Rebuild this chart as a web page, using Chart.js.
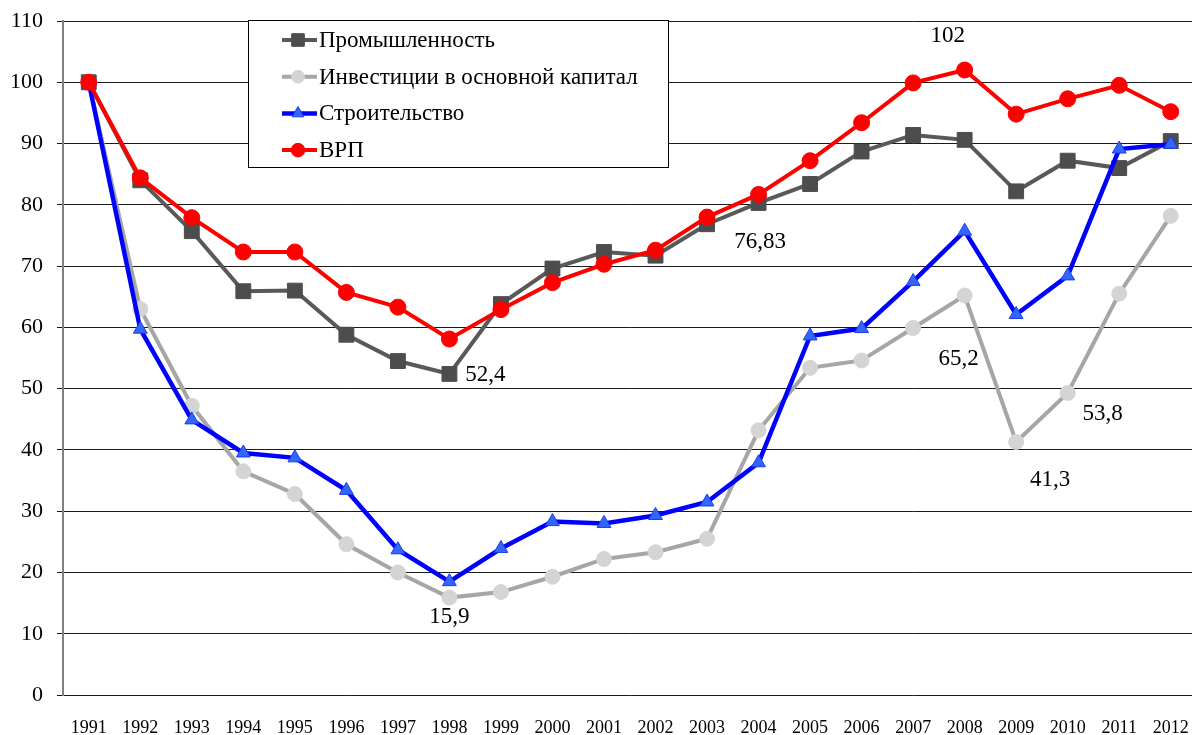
<!DOCTYPE html>
<html lang="ru">
<head>
<meta charset="utf-8">
<title>Индексы 1991–2012</title>
<script src="https://cdn.jsdelivr.net/npm/chart.js@4/dist/chart.umd.min.js"></script>
<style>
  html, body { margin: 0; padding: 0; background: #fff; overflow: hidden; width: 1192px; height: 735px; }
  #wrap { width: 1192px; height: 735px; overflow: hidden; position: relative; }
  #chart { position: absolute; left: 0; top: 0; display: block; }
</style>
</head>
<body>
<div id="wrap"><canvas id="chart" width="1208" height="735"></canvas></div>
<script>
var years = ["1991", "1992", "1993", "1994", "1995", "1996", "1997", "1998", "1999", "2000", "2001",
  "2002", "2003", "2004", "2005", "2006", "2007", "2008", "2009", "2010", "2011", "2012"];

var industry = [100, 84.0, 75.7, 65.9, 66.0, 58.8, 54.5, 52.4, 63.8, 69.6, 72.3,
  71.7, 76.83, 80.3, 83.4, 88.7, 91.4, 90.6, 82.2, 87.2, 86.0, 90.4];
var investment = [100, 63.0, 47.2, 36.5, 32.8, 24.6, 20.0, 15.9, 16.8, 19.3, 22.2,
  23.3, 25.5, 43.2, 53.4, 54.6, 59.9, 65.2, 41.3, 49.3, 65.5, 78.2];
var construction = [100, 59.7, 44.9, 39.5, 38.7, 33.4, 23.7, 18.5, 23.9, 28.3, 28.0,
  29.3, 31.5, 37.9, 58.6, 59.8, 67.5, 75.7, 62.1, 68.4, 89.1, 89.9];
var grp = [100, 84.4, 77.9, 72.3, 72.3, 65.7, 63.3, 58.1, 62.9, 67.3, 70.3,
  72.6, 78.0, 81.7, 87.2, 93.4, 99.9, 102.0, 94.8, 97.3, 99.5, 95.2];

var seriesNames = ["Промышленность", "Инвестиции в основной капитал", "Строительство", "ВРП"];

// value labels written on the chart: series index, year, text
var noteSeries = [0, 0, 3, 1, 1, 1, 1];
var noteYears = ["1998", "2003", "2008", "2008", "2009", "2010", "1998"];
var noteTexts = ["52,4", "76,83", "102", "65,2", "41,3", "53,8", "15,9"];
// where each label sits relative to its point (px)
var noteShift = [[36, 1], [53, 18], [-17, -34], [-6, 63], [34, 38], [35, 21], [0, 19]];

var serif = '"Liberation Serif", "Times New Roman", serif';

var boxLegend = {
  id: "boxLegend",
  afterDraw: function (chart) {
    var ctx = chart.ctx;
    var area = chart.chartArea;
    var left = area.left + 185;
    var top = area.top - 1;
    ctx.save();
    ctx.fillStyle = "#ffffff";
    ctx.fillRect(left, top, 420, 147);
    ctx.strokeStyle = "#000000";
    ctx.lineWidth = 1;
    ctx.strokeRect(left + 0.5, top + 0.5, 420, 147);

    chart.data.datasets.forEach(function (ds, i) {
      var y = top + 20 + i * 36.7;
      ctx.strokeStyle = ds.borderColor;
      ctx.lineWidth = ds.borderWidth;
      ctx.beginPath();
      ctx.moveTo(left + 34, y);
      ctx.lineTo(left + 69, y);
      ctx.stroke();

      ctx.fillStyle = ds.pointBackgroundColor;
      ctx.strokeStyle = ds.pointBorderColor;
      ctx.lineWidth = ds.pointBorderWidth;
      Chart.helpers.drawPoint(ctx, {
        pointStyle: ds.pointStyle,
        radius: ds.pointRadius * 0.85,
        rotation: 0,
        borderWidth: ds.pointBorderWidth,
      }, left + 50, y);

      ctx.fillStyle = "#000000";
      ctx.font = "23px " + serif;
      ctx.textAlign = "left";
      ctx.textBaseline = "middle";
      ctx.fillText(ds.label, left + 71, y + 1);
    });
    ctx.restore();
  },
};

var valueNotes = {
  id: "valueNotes",
  afterDatasetsDraw: function (chart) {
    var ctx = chart.ctx;
    ctx.save();
    ctx.fillStyle = "#000000";
    ctx.font = "23px " + serif;
    ctx.textAlign = "center";
    ctx.textBaseline = "middle";
    noteTexts.forEach(function (text, i) {
      var meta = chart.getDatasetMeta(noteSeries[i]);
      var point = meta.data[years.indexOf(noteYears[i])];
      ctx.fillText(text, point.x + noteShift[i][0], point.y + noteShift[i][1]);
    });
    ctx.restore();
  },
};

new Chart(document.getElementById("chart"), {
  type: "line",
  data: {
    labels: years,
    datasets: [
      {
        label: seriesNames[0],
        data: industry,
        order: 4,
        borderColor: "#595959",
        borderWidth: 4,
        pointStyle: "rect",
        pointRadius: 10.5,
        pointBackgroundColor: "#4d4d4d",
        pointBorderColor: "#4d4d4d",
        pointBorderWidth: 1,
      },
      {
        label: seriesNames[1],
        data: investment,
        order: 3,
        borderColor: "#a6a6a6",
        borderWidth: 4,
        pointStyle: "circle",
        pointRadius: 7.5,
        pointBackgroundColor: "#d4d4d4",
        pointBorderColor: "#d4d4d4",
        pointBorderWidth: 1,
      },
      {
        label: seriesNames[2],
        data: construction,
        order: 2,
        borderColor: "#0000ff",
        borderWidth: 4.5,
        pointStyle: "triangle",
        pointRadius: 8,
        pointBackgroundColor: "#3366ff",
        pointBorderColor: "#1a3ee6",
        pointBorderWidth: 1,
      },
      {
        label: seriesNames[3],
        data: grp,
        order: 1,
        borderColor: "#ff0000",
        borderWidth: 4,
        pointStyle: "circle",
        pointRadius: 8,
        pointBackgroundColor: "#ff0000",
        pointBorderColor: "#ff0000",
        pointBorderWidth: 1,
      },
    ],
  },
  options: {
    responsive: false,
    animation: false,
    layout: { padding: { top: 21, right: 3, left: 0, bottom: 0 } },
    plugins: {
      legend: { display: false },
      tooltip: { enabled: false },
    },
    elements: { line: { tension: 0 } },
    scales: {
      x: {
        offset: true,
        grid: { display: false, drawTicks: false },
        border: { display: false },
        ticks: {
          color: "#000000",
          font: { family: serif, size: 18 },
          padding: 22,
          maxRotation: 0,
          autoSkip: false,
        },
        afterFit: function (scale) {
          scale.height = 40;
          scale.paddingLeft = 0;
          scale.paddingRight = 0;
        },
      },
      y: {
        min: 0,
        max: 110,
        grid: { color: "#1a1a1a", lineWidth: 1, tickLength: 6 },
        border: { color: "#808080", width: 2 },
        ticks: {
          stepSize: 10,
          color: "#000000",
          font: { family: serif, size: 22 },
          padding: 14,
        },
        afterFit: function (scale) {
          scale.width = 63;
          scale.paddingTop = 0;
          scale.paddingBottom = 0;
        },
      },
    },
  },
  plugins: [boxLegend, valueNotes],
});
</script>
</body>
</html>
